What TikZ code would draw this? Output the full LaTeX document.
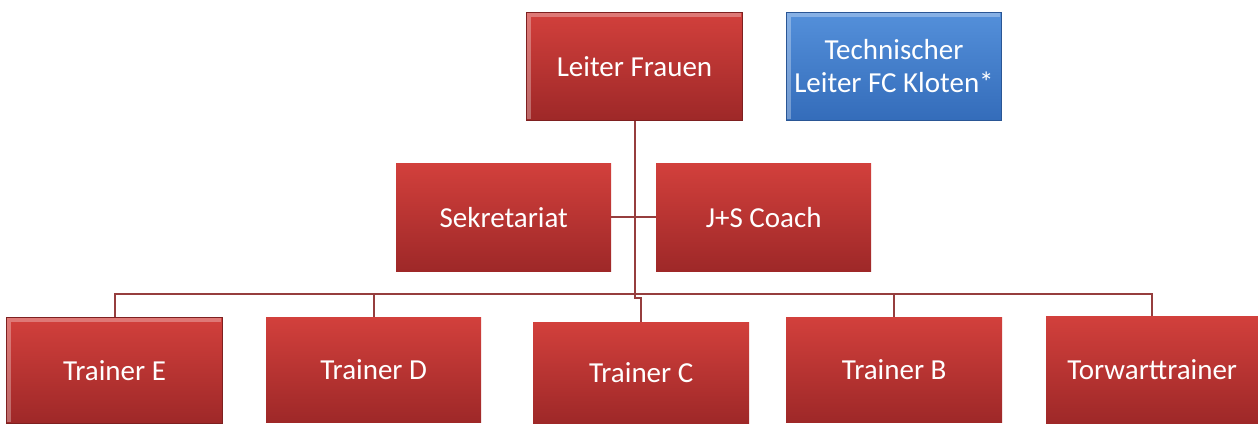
\documentclass[tikz,border=0pt]{standalone}
\usepackage{fontspec}
\setmainfont{Carlito}
\usetikzlibrary{calc}
\definecolor{rtop}{RGB}{210,64,60}
\definecolor{rbot}{RGB}{158,40,40}
\definecolor{btop}{RGB}{84,144,218}
\definecolor{bbot}{RGB}{52,108,186}
\definecolor{conn}{RGB}{150,62,62}
\tikzset{
  redbox/.style={rectangle, anchor=north west, inner sep=0pt, top color=rtop, bottom color=rbot,
    text=white, font=\fontsize{29}{33}\selectfont, align=center},
  bluebox/.style={redbox, top color=btop, bottom color=bbot},
  bevel/.style={draw=rbot!80!black, line width=1pt,
    path picture={\draw[white, opacity=0.3, line width=4pt]
      ($(path picture bounding box.south west)+(2,-2)$) -- ($(path picture bounding box.north west)+(2,2)$) -- ($(path picture bounding box.north east)+(-2,2)$);}},
  bbevel/.style={draw=bbot!80!black, line width=1pt,
    path picture={\draw[white, opacity=0.3, line width=4pt]
      ($(path picture bounding box.south west)+(2,-2)$) -- ($(path picture bounding box.north west)+(2,2)$) -- ($(path picture bounding box.north east)+(-2,2)$);}},
  link/.style={draw=conn, line width=2pt}
}
\begin{document}
\begin{tikzpicture}[x=1pt,y=-1pt]
\useasboundingbox (0,0) rectangle (1258,423);
\node[redbox, bevel, minimum width=216, minimum height=108] (lf) at (526,12) {Leiter Frauen};
\node[bluebox, bbevel, minimum width=215, minimum height=108] (tl) at (786,12) {Technischer\\Leiter FC Kloten*};
\node[redbox, minimum width=215, minimum height=108] (sek) at (396,163) {Sekretariat};
\node[redbox, minimum width=215, minimum height=108] (js) at (656,163) {J+S Coach};
\node[redbox, bevel, minimum width=216, minimum height=106] (te) at (6,317) {Trainer E};
\node[redbox, minimum width=215, minimum height=105] (td) at (266,317) {Trainer D};
\node[redbox, minimum width=216, minimum height=101] (tc) at (533,322) {Trainer C};
\node[redbox, minimum width=216, minimum height=105] (tb) at (786,317) {Trainer B};
\node[redbox, minimum width=212, minimum height=107] (tw) at (1046,316) {Torwarttrainer};
\coordinate (bus) at (633,294);
\coordinate (jog) at (633,298);
\draw[link] (te.north) -- (te.north |- bus) -- (tw.north |- bus) -- (tw.north);
\draw[link] (td.north) -- (td.north |- bus);
\draw[link] (tb.north) -- (tb.north |- bus);
\draw[link] (lf.south) -- (lf.south |- jog) -- (tc.north |- jog) -- (tc.north);
\draw[link] (sek.east) -- (js.west);
\end{tikzpicture}
\end{document}
